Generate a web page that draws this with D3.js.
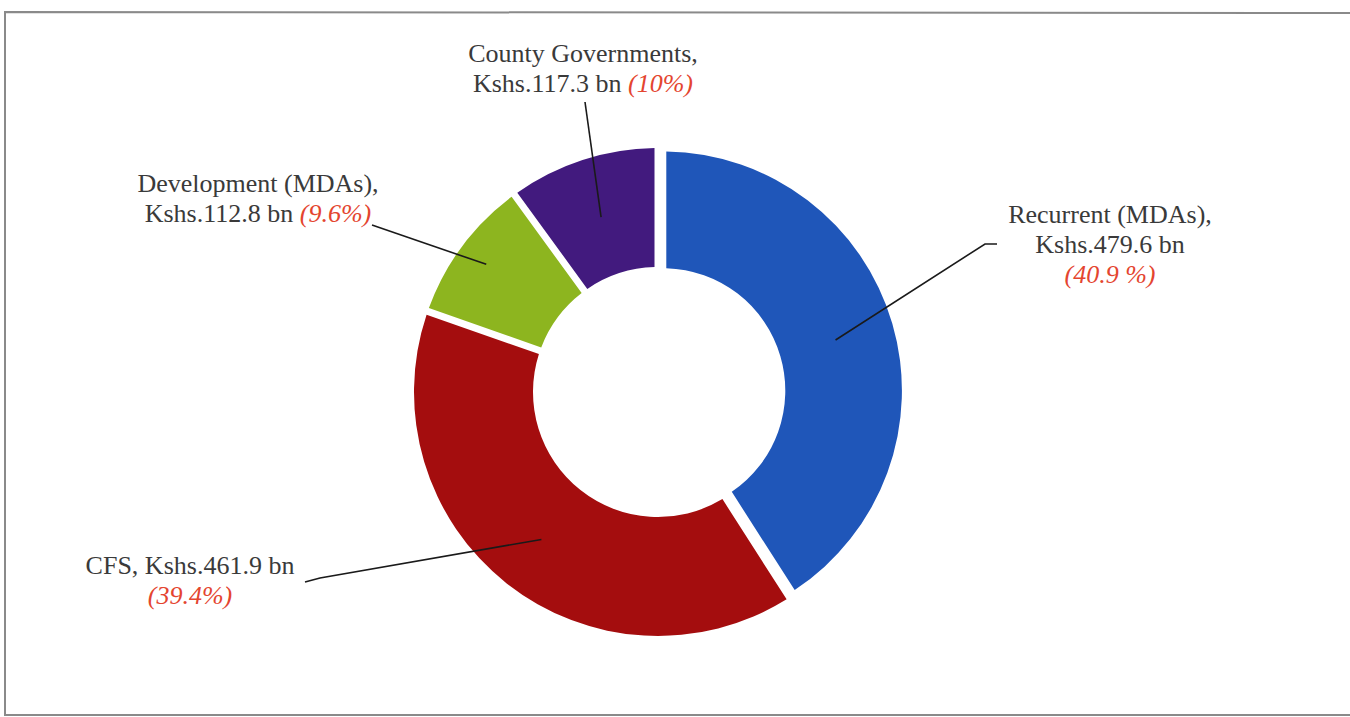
<!DOCTYPE html>
<html>
<head>
<meta charset="utf-8">
<script src="https://cdn.jsdelivr.net/npm/d3@7"></script>
<style>
  body { margin: 0; background: #fff; }
  svg { display: block; }
  .lbl { font-family: "Liberation Serif", "Times New Roman", serif; }
</style>
</head>
<body>
<div id="chart"></div>
<script>
var w = 1350,
    h = 717;

// data
var categories = ["Recurrent (MDAs)", "CFS", "Development (MDAs)", "County Governments"];
var amounts = [479.6, 461.9, 112.8, 117.3];          // Kshs bn
var shares = ["40.9 %", "39.4%", "9.6%", "10%"];
var colors = ["#1f56b9", "#a40d0e", "#8db51f", "#421a7e"];

var svg = d3.select("#chart")
    .append("svg")
    .attr("width", w)
    .attr("height", h);

// scanned page frame
svg.append("path")
    .attr("d", "M1350,13 L5,12 L5,715 L1350,715")
    .attr("fill", "none")
    .attr("stroke", "#8a8a8a")
    .attr("stroke-width", 2);

var cx = 658, cy = 392;
var rOuter = 244, rInner = 125;

var pie = d3.pie().sort(null).value(function(d) { return d; });
var arcs = pie(amounts);

// the pulled-out slice is drawn a touch smaller, as in the source
var explode = [5, 0, 0, 0];
var shrink = [0.98, 1, 1, 1];

function arcFor(i) {
    return d3.arc()
        .innerRadius(rInner * shrink[i])
        .outerRadius(rOuter * shrink[i])
        .padAngle(0.028)
        .padRadius(250);
}

function offset(d, i) {
    var a = (d.startAngle + d.endAngle) / 2;
    return [Math.sin(a) * explode[i], -Math.cos(a) * explode[i]];
}

var g = svg.append("g").attr("transform", "translate(" + cx + "," + cy + ")");

g.selectAll(".slice")
    .data(arcs)
    .enter()
    .append("path")
    .attr("class", "slice")
    .attr("d", function(d, i) { return arcFor(i)(d); })
    .attr("transform", function(d, i) {
        var o = offset(d, i);
        return "translate(" + o[0] + "," + o[1] + ")";
    })
    .attr("fill", function(d, i) { return colors[i]; });

// label layout: anchor radius on slice, text position, lines and leader bends
var labels = [
    { r: 180, x: 1110, y: 223, lines: [[categories[0] + ","], ["Kshs." + amounts[0] + " bn"], [null, "(" + shares[0] + ")"]], bend: [[997, 244], [985, 244]] },
    { r: 188, x: 190, y: 574, lines: [[categories[1] + ", Kshs." + amounts[1] + " bn"], [null, "(" + shares[1] + ")"]], bend: [[305, 582], [320, 578]] },
    { r: 214, x: 258, y: 192, lines: [[categories[2] + ","], ["Kshs." + amounts[2] + " bn ", "(" + shares[2] + ")"]], bend: [[372, 225]] },
    { r: 184, x: 583, y: 62, lines: [[categories[3] + ","], ["Kshs." + amounts[3] + " bn ", "(" + shares[3] + ")"]], bend: [[585, 102]] }
];

var lineGen = d3.line();

labels.forEach(function(l, i) {
    var d = arcs[i];
    var a = (d.startAngle + d.endAngle) / 2;
    var o = offset(d, i);
    var end = [cx + o[0] + Math.sin(a) * l.r, cy + o[1] - Math.cos(a) * l.r];
    var pts = l.bend.concat([end]);

    svg.append("path")
        .attr("d", lineGen(pts))
        .attr("fill", "none")
        .attr("stroke", "#1a1a1a")
        .attr("stroke-width", 1.6);

    var t = svg.append("text")
        .attr("class", "lbl")
        .attr("x", l.x)
        .attr("y", l.y)
        .attr("text-anchor", "middle")
        .attr("font-size", "26px")
        .attr("fill", "#3a3a3a");

    l.lines.forEach(function(parts, j) {
        var first = true;
        parts.forEach(function(p, k) {
            if (p === null) return;
            var s = t.append("tspan").text(p);
            if (first) {
                s.attr("x", l.x).attr("dy", j === 0 ? 0 : 30);
                first = false;
            }
            if (k === 1) {
                s.attr("fill", "#e4452f").attr("font-style", "italic");
            }
        });
    });
});
</script>
</body>
</html>
